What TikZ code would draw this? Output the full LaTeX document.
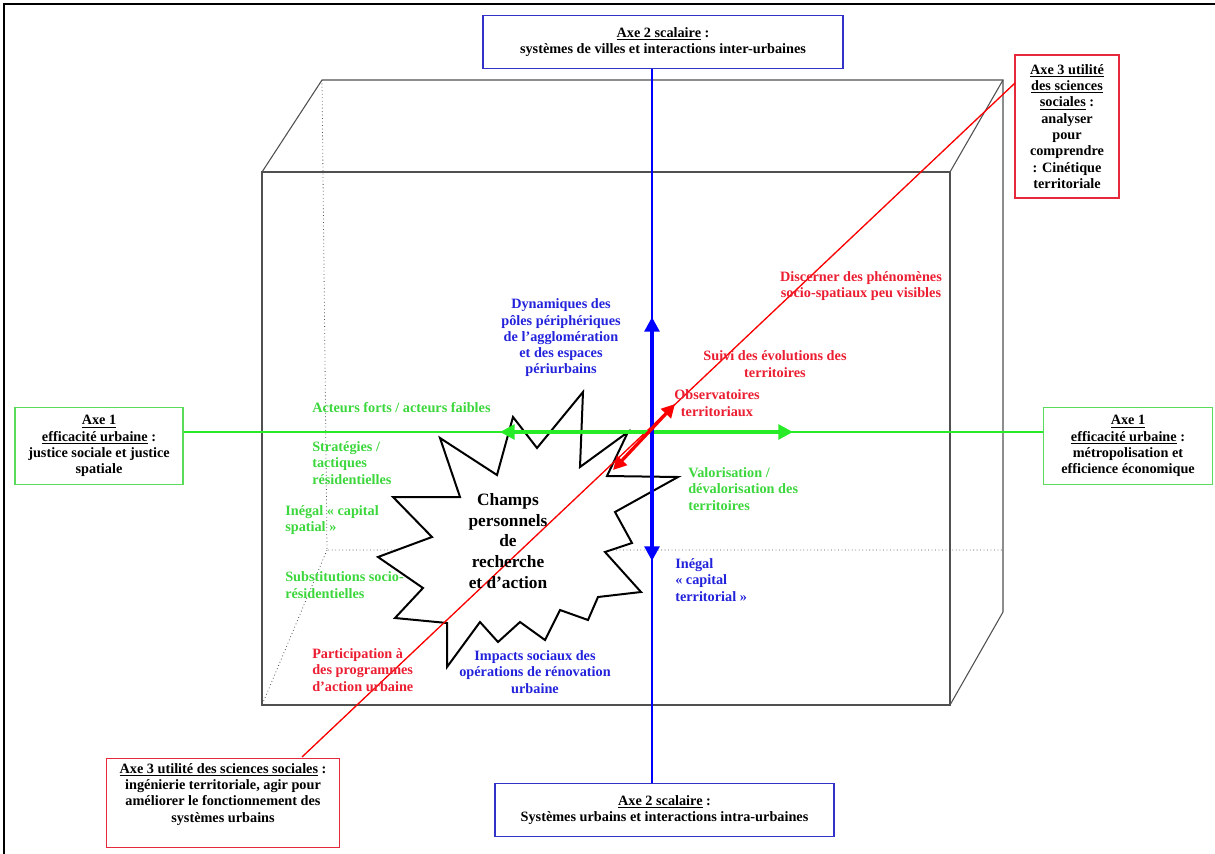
\documentclass[tikz,border=0pt]{standalone}
\usepackage{fontspec}
\setmainfont{Liberation Serif}
\usetikzlibrary{arrows.meta}
\definecolor{gline}{RGB}{40,235,40}
\definecolor{gtext}{RGB}{60,215,60}
\definecolor{gbox}{RGB}{90,220,90}
\definecolor{bline}{RGB}{0,0,255}
\definecolor{btext}{RGB}{35,35,220}
\definecolor{bbox}{RGB}{50,50,200}
\definecolor{rline}{RGB}{250,0,0}
\definecolor{rtext}{RGB}{235,30,50}
\definecolor{rbox}{RGB}{230,40,60}
\definecolor{cubecol}{RGB}{80,80,80}
\tikzset{
  boxstyle/.style={draw, line width=1.1pt, fill=white, align=center, inner sep=2pt},
  gboxst/.style={boxstyle, draw=gbox},
  bboxst/.style={boxstyle, draw=bbox},
  rboxst/.style={boxstyle, draw=rbox},
  lbl/.style={inner sep=0pt, align=center},
  lbll/.style={inner sep=0pt, align=left},
  cube/.style={draw=cubecol, line width=0.8pt},
  cubehid/.style={draw=cubecol, line width=0.6pt, dotted},
  thinb/.style={draw=bline, line width=1.5pt},
  thing/.style={draw=gline, line width=1.5pt},
  thinr/.style={draw=rline, line width=1pt},
  tipb/.style={{Triangle[length=11pt,width=11pt]}-{Triangle[length=11pt,width=11pt]}},
}
\begin{document}
\begin{tikzpicture}[x=0.75pt,y=-0.75pt, font=\bfseries\fontsize{10.7}{12.2}\selectfont]
\useasboundingbox (0,0) rectangle (1215,854);
\fill[white] (0,0) rectangle (1215,854);
\draw[line width=2.2pt] (4,854) -- (4,4) -- (1215,4);

% cube
\draw[cube] (262,172) rectangle (950,705);
\draw[cube] (262,172) -- (322,80) -- (1003,80) -- (1003,612) -- (950,705);
\draw[cube] (950,172) -- (1003,80);
\draw[cubehid] (322,80) -- (327,550) -- (1003,550);
\draw[cubehid] (327,550) -- (262,705);

% star
\draw[line width=1.5pt, fill=white, line join=miter]
 (583,392) -- (580,467) -- (628,432) -- (607,476) -- (678,477) -- (615,512) -- (632,543) -- (605,552) -- (641,592) -- (598,597) -- (588,620) -- (560,610) -- (545,640) -- (520,622) -- (498,642) -- (480,622) -- (447,667) -- (447,623) -- (395,618) -- (423,588) -- (378,557) -- (432,537) -- (393,497) -- (460,497) -- (440,438) -- (497,475) -- (513,417) -- (537,448) -- cycle;

% boxes
\node[bboxst, minimum width=270pt, minimum height=40pt] (top) at (663,42) {\underline{Axe 2 scalaire} :\\ systèmes de villes et interactions inter-urbaines};
\node[bboxst, minimum width=254pt, minimum height=40pt] (bot) at (664.5,810) {\underline{Axe 2 scalaire} :\\ Systèmes urbains et interactions intra-urbaines};
\node[gboxst, minimum width=126pt, minimum height=58pt] (left) at (99,446) {\underline{Axe 1}\\ \underline{efficacité urbaine} :\\ justice sociale et justice\\ spatiale};
\node[gboxst, minimum width=127pt, minimum height=58pt] (right) at (1128,446) {\underline{Axe 1}\\ \underline{efficacité urbaine} :\\ métropolisation et\\ efficience économique};
\node[rboxst, minimum width=78pt, minimum height=107pt] (rtop) at (1067,126.5) {\underline{Axe 3 utilité}\\ \underline{des sciences}\\ \underline{sociales} :\\ analyser\\ pour\\ comprendre\\ : Cinétique\\ territoriale};
\node[rboxst, minimum width=175pt, minimum height=67pt] (rbot) at (223,803) {\underline{Axe 3 utilité des sciences sociales} :\\ ingénierie territoriale, agir pour\\ améliorer le fonctionnement des\\ systèmes urbains\\[3pt]};

\coordinate (O) at (652,432);
\coordinate (redA) at (1015,83);
\coordinate (redB) at (302,757);

% axes
\draw[thing] (left.east |- O) -- (right.west |- O);
\draw[thinb] (top.south -| O) -- (bot.north -| O);
\draw[thinr] (redA) -- (redB);

\coordinate (gL) at (500,432);
\coordinate (gR) at (793,432);
\coordinate (bU) at (652,317);
\coordinate (bD) at (652,561);
\coordinate (rL) at (613,470);
\coordinate (rU) at (675,404);
\draw[draw=gline, line width=3pt, tipb, fill=gline] (gL) -- (gR);
\draw[draw=bline, line width=3pt, tipb, fill=bline] (bD) -- (bU);
\draw[draw=rline, line width=2.5pt, {Triangle[length=10pt,width=10pt]}-{Triangle[length=10pt,width=10pt]}] (rL) -- (rU);

% labels
\node[lbl, text=btext] (dyn) at (561,338) {Dynamiques des\\ pôles périphériques\\ de l’agglomération\\ et des espaces\\ périurbains};
\node[lbl, text=rtext] (disc) at (861,286) {Discerner des phénomènes\\ socio-spatiaux peu visibles};
\node[lbl, text=rtext] (suivi) at (775,364) {Suivi des évolutions des\\ territoires};
\node[lbl, text=rtext] (obs) at (717,403) {Observatoires\\ territoriaux};
\node[lbll, text=gtext, anchor=west] (act) at (312,408) {Acteurs forts / acteurs faibles};
\node[lbll, text=gtext, anchor=west] (strat) at (312,463) {Stratégies /\\ tactiques\\ résidentielles};
\node[lbll, text=gtext, anchor=west] (ineg) at (285,520) {Inégal « capital\\ spatial »};
\node[lbll, text=gtext, anchor=west] (subs) at (285,585) {Substitutions socio-\\ résidentielles};
\node[lbll, text=gtext, anchor=west] (valo) at (688,489) {Valorisation /\\ dévalorisation des\\ territoires};
\node[lbll, text=btext, anchor=west] (inegt) at (675,580) {Inégal\\ « capital\\ territorial »};
\node[lbll, text=rtext, anchor=west] (part) at (312,670) {Participation à\\ des programmes\\ d’action urbaine};
\node[lbl, text=btext] (imp) at (535,672) {Impacts sociaux des\\ opérations de rénovation\\ urbaine};
\node[lbl, font=\bfseries\fontsize{13}{15.4}\selectfont] (champs) at (508,541) {Champs\\ personnels\\ de\\ recherche\\ et d’action};
\end{tikzpicture}
\end{document}
